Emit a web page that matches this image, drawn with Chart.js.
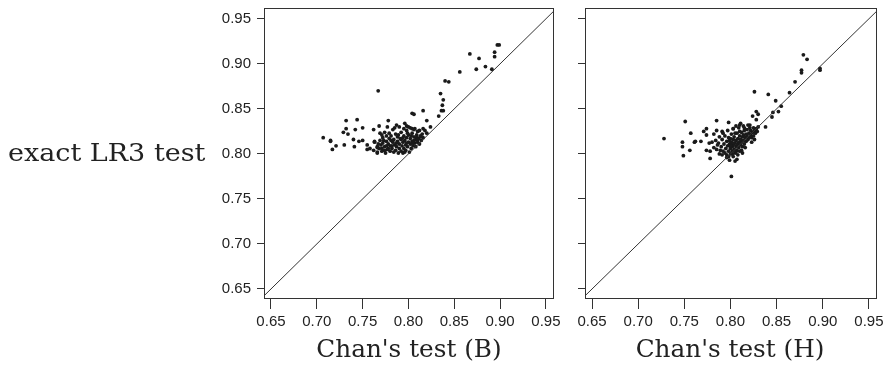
<!DOCTYPE html>
<html>
<head>
<meta charset="utf-8">
<script src="https://cdn.jsdelivr.net/npm/chart.js@4.4.1/dist/chart.umd.min.js"></script>
<style>
  html, body { margin: 0; padding: 0; background: #fff; }
  #wrap { position: relative; width: 883px; height: 372px; overflow: hidden; }
  canvas { position: absolute; top: 0; }
  .lbl { position: absolute; font-family: "DejaVu Serif", serif; color: #222; white-space: nowrap; font-size: 24px; line-height: 28px; }
</style>
</head>
<body>
<div id="wrap">
  <canvas id="chanB" width="580" height="372" style="left:0"></canvas>
  <canvas id="chanH" width="323" height="372" style="left:560px"></canvas>
  <div class="lbl" id="ylab" style="left:8px; top:139px; transform-origin:0 0; transform:scaleX(1.125);">exact LR3 test</div>
  <div class="lbl" id="xlabB" style="left:409px; top:335px; transform:translateX(-50%) scaleX(1.03);">Chan's test (B)</div>
  <div class="lbl" id="xlabH" style="left:730px; top:335px; transform:translateX(-50%) scaleX(1.03);">Chan's test (H)</div>
</div>
<script>
// tick labels shared by both panels
const axisTicks = [0.65, 0.70, 0.75, 0.80, 0.85, 0.90, 0.95];
const diagLine = [0.6, 1.0];

// Chan's test (B) vs exact LR3 test
const chanB_x = [
  0.707, 0.715, 0.715, 0.717, 0.721, 0.730, 0.729, 0.732, 0.732, 0.734,
  0.740, 0.741, 0.742, 0.744, 0.746, 0.750, 0.750, 0.755, 0.755, 0.758,
  0.762, 0.763, 0.766, 0.767, 0.768, 0.769, 0.771, 0.774, 0.773, 0.777,
  0.778, 0.787, 0.796, 0.798, 0.804, 0.806, 0.802, 0.807, 0.816, 0.816,
  0.820, 0.824, 0.833, 0.835, 0.837, 0.838, 0.836, 0.838, 0.840, 0.844,
  0.856, 0.867, 0.874, 0.877, 0.884, 0.891, 0.894, 0.894, 0.897, 0.899,
  0.766,
  0.766, 0.768, 0.770, 0.771, 0.772, 0.774, 0.775, 0.776, 0.777, 0.778,
  0.779, 0.780, 0.780, 0.781, 0.782, 0.783, 0.784, 0.784, 0.785, 0.786,
  0.786, 0.787, 0.788, 0.788, 0.789, 0.790, 0.790, 0.791, 0.792, 0.792,
  0.793, 0.794, 0.794, 0.795, 0.795, 0.796, 0.797, 0.797, 0.798, 0.798,
  0.799, 0.800, 0.800, 0.801, 0.802, 0.802, 0.803, 0.804, 0.804, 0.805,
  0.806, 0.806, 0.807, 0.808, 0.808, 0.809, 0.810, 0.810, 0.811, 0.812,
  0.813, 0.814, 0.815, 0.816, 0.812, 0.779, 0.783, 0.776, 0.772, 0.769,
  0.767, 0.790, 0.795, 0.800, 0.785, 0.792, 0.787, 0.782, 0.778, 0.774,
  0.796, 0.803, 0.798, 0.806, 0.809, 0.781, 0.789, 0.794, 0.799, 0.804,
  0.776, 0.771, 0.766, 0.763, 0.762, 0.818, 0.820, 0.813, 0.810, 0.805
];
const chanB_y = [
  0.818, 0.815, 0.814, 0.805, 0.809, 0.810, 0.824, 0.837, 0.828, 0.822,
  0.816, 0.808, 0.827, 0.838, 0.814, 0.829, 0.815, 0.805, 0.810, 0.806,
  0.827, 0.814, 0.808, 0.870, 0.831, 0.823, 0.821, 0.824, 0.815, 0.830,
  0.837, 0.832, 0.834, 0.831, 0.845, 0.844, 0.829, 0.828, 0.848, 0.828,
  0.837, 0.830, 0.842, 0.867, 0.854, 0.860, 0.848, 0.848, 0.881, 0.880,
  0.891, 0.911, 0.894, 0.906, 0.897, 0.894, 0.913, 0.908, 0.921, 0.921,
  0.801,
  0.802, 0.806, 0.810, 0.803, 0.812, 0.808, 0.801, 0.814, 0.805, 0.811,
  0.817, 0.803, 0.809, 0.820, 0.806, 0.813, 0.802, 0.816, 0.810, 0.822,
  0.804, 0.808, 0.814, 0.819, 0.801, 0.811, 0.806, 0.817, 0.803, 0.824,
  0.809, 0.813, 0.801, 0.820, 0.806, 0.815, 0.810, 0.804, 0.818, 0.826,
  0.808, 0.813, 0.821, 0.802, 0.811, 0.817, 0.806, 0.823, 0.814, 0.809,
  0.819, 0.827, 0.812, 0.816, 0.808, 0.821, 0.813, 0.825, 0.817, 0.811,
  0.820, 0.815, 0.822, 0.818, 0.826, 0.823, 0.827, 0.820, 0.818, 0.815,
  0.811, 0.830, 0.828, 0.830, 0.829, 0.816, 0.812, 0.809, 0.806, 0.804,
  0.802, 0.820, 0.812, 0.815, 0.818, 0.815, 0.821, 0.818, 0.823, 0.828,
  0.809, 0.806, 0.807, 0.813, 0.804, 0.826, 0.823, 0.819, 0.816, 0.812
];

// Chan's test (H) vs exact LR3 test
const chanH_x = [
  0.728, 0.748, 0.748, 0.749, 0.751, 0.756, 0.757, 0.761, 0.762, 0.768,
  0.771, 0.774, 0.774, 0.774, 0.777, 0.778, 0.782, 0.785, 0.785, 0.791,
  0.798, 0.801, 0.803, 0.810, 0.821, 0.826, 0.828, 0.830, 0.828, 0.824,
  0.838, 0.841, 0.845, 0.846, 0.849, 0.852, 0.855, 0.864, 0.870, 0.877,
  0.877, 0.879, 0.883, 0.897, 0.897, 0.813, 0.799, 0.805, 0.807, 0.796,
  0.785, 0.787, 0.788, 0.790, 0.791, 0.792, 0.793, 0.794, 0.795, 0.796,
  0.796, 0.797, 0.798, 0.798, 0.799, 0.800, 0.800, 0.801, 0.801, 0.802,
  0.802, 0.803, 0.803, 0.804, 0.804, 0.805, 0.805, 0.806, 0.806, 0.807,
  0.807, 0.808, 0.808, 0.809, 0.809, 0.810, 0.810, 0.811, 0.811, 0.812,
  0.812, 0.813, 0.813, 0.814, 0.814, 0.815, 0.815, 0.816, 0.817, 0.817,
  0.818, 0.818, 0.819, 0.820, 0.820, 0.821, 0.822, 0.822, 0.823, 0.824,
  0.825, 0.825, 0.826, 0.827, 0.828, 0.829, 0.830, 0.826, 0.823, 0.816,
  0.812, 0.808, 0.803, 0.798, 0.791, 0.789, 0.786, 0.784, 0.782, 0.780,
  0.778, 0.788, 0.792, 0.797, 0.803, 0.809, 0.814, 0.819, 0.811, 0.806,
  0.800, 0.805, 0.810, 0.815, 0.794, 0.799, 0.801, 0.804, 0.807, 0.806,
  0.802, 0.800
];
const chanH_y = [
  0.817, 0.813, 0.808, 0.798, 0.836, 0.804, 0.823, 0.813, 0.814, 0.814,
  0.825, 0.828, 0.821, 0.804, 0.812, 0.795, 0.822, 0.837, 0.826, 0.825,
  0.835, 0.775, 0.828, 0.832, 0.832, 0.869, 0.847, 0.844, 0.838, 0.842,
  0.830, 0.866, 0.841, 0.846, 0.859, 0.847, 0.853, 0.868, 0.880, 0.893,
  0.890, 0.910, 0.905, 0.895, 0.893, 0.801, 0.793, 0.792, 0.794, 0.796,
  0.805, 0.812, 0.800, 0.808, 0.816, 0.803, 0.811, 0.820, 0.806, 0.799,
  0.814, 0.809, 0.803, 0.818, 0.811, 0.806, 0.800, 0.813, 0.822, 0.808,
  0.803, 0.816, 0.810, 0.805, 0.819, 0.812, 0.801, 0.808, 0.815, 0.804,
  0.823, 0.811, 0.817, 0.807, 0.813, 0.820, 0.803, 0.810, 0.816, 0.813,
  0.824, 0.808, 0.819, 0.815, 0.821, 0.811, 0.826, 0.818, 0.814, 0.822,
  0.820, 0.827, 0.816, 0.823, 0.818, 0.829, 0.821, 0.826, 0.818, 0.824,
  0.829, 0.820, 0.826, 0.823, 0.828, 0.825, 0.830, 0.816, 0.813, 0.807,
  0.804, 0.799, 0.797, 0.797, 0.799, 0.804, 0.810, 0.815, 0.807, 0.813,
  0.803, 0.819, 0.823, 0.826, 0.828, 0.829, 0.831, 0.832, 0.834, 0.831,
  0.817, 0.823, 0.825, 0.829, 0.801, 0.815, 0.810, 0.812, 0.809, 0.802,
  0.800, 0.809
];

function toPoints(xs, ys) {
  const pts = [];
  for (let i = 0; i < xs.length; i++) {
    pts.push({x: xs[i], y: ys[i]});
  }
  return pts;
}

// draws the closed box round the plot region like R's bty="o"
const boxPlugin = {
  id: 'boxPlugin',
  afterDatasetsDraw(chart) {
    const a = chart.chartArea;
    const ctx = chart.ctx;
    ctx.save();
    ctx.strokeStyle = '#333';
    ctx.lineWidth = 1;
    ctx.strokeRect(Math.round(a.left) + 0.5, Math.round(a.top) + 0.5,
                   Math.round(a.right - a.left), Math.round(a.bottom - a.top));
    ctx.restore();
  }
};

// no extra room for overhanging tick labels, the box must sit at fixed pixels
function noOverhang(scale) {
  scale.paddingTop = 0;
  scale.paddingBottom = 0;
  scale.paddingLeft = 0;
  scale.paddingRight = 0;
}

function makePanel(canvas_id, xs, ys, yAxisWidth, showYLabels, rightPad) {
  const tickFont = {family: '"Liberation Sans", Arial, sans-serif', size: 15};
  const config = {
    type: 'scatter',
    data: {
      datasets: [
        {
          type: 'line',
          data: toPoints(diagLine, diagLine),
          borderColor: '#333',
          borderWidth: 1,
          pointRadius: 0,
          fill: false
        },
        {
          data: toPoints(xs, ys),
          backgroundColor: '#1a1a1a',
          borderWidth: 0,
          pointRadius: 1.9,
          pointHoverRadius: 1.9
        }
      ]
    },
    options: {
      responsive: false,
      animation: false,
      events: [],
      layout: {padding: {top: 8, right: rightPad, bottom: 0, left: 0}},
      plugins: {legend: {display: false}, tooltip: {enabled: false}},
      scales: {
        x: {
          type: 'linear',
          min: 0.6424,
          max: 0.9577,
          afterBuildTicks: (scale) => { scale.ticks = axisTicks.map(v => ({value: v})); },
          afterFit: (scale) => { scale.height = 74; noOverhang(scale); },
          border: {display: false},
          grid: {drawOnChartArea: false, drawTicks: true, tickLength: 11, tickColor: '#333', tickWidth: 1},
          ticks: {
            font: tickFont, color: '#222', padding: 4, maxRotation: 0, autoSkip: false,
            callback: (v) => Number(v).toFixed(2)
          }
        },
        y: {
          type: 'linear',
          min: 0.640,
          max: 0.962,
          afterBuildTicks: (scale) => { scale.ticks = axisTicks.map(v => ({value: v})); },
          afterFit: (scale) => { scale.width = yAxisWidth; noOverhang(scale); },
          border: {display: false},
          grid: {drawOnChartArea: false, drawTicks: true, tickLength: 7, tickColor: '#333', tickWidth: 1},
          ticks: {
            font: tickFont, color: '#222', padding: 6, autoSkip: false,
            callback: (v) => showYLabels ? Number(v).toFixed(2) : ''
          }
        }
      }
    },
    plugins: [boxPlugin]
  };
  return new Chart(document.getElementById(canvas_id), config);
}

makePanel('chanB', chanB_x, chanB_y, 264, true, 27);
makePanel('chanH', chanH_x, chanH_y, 25, false, 7);
</script>
</body>
</html>
